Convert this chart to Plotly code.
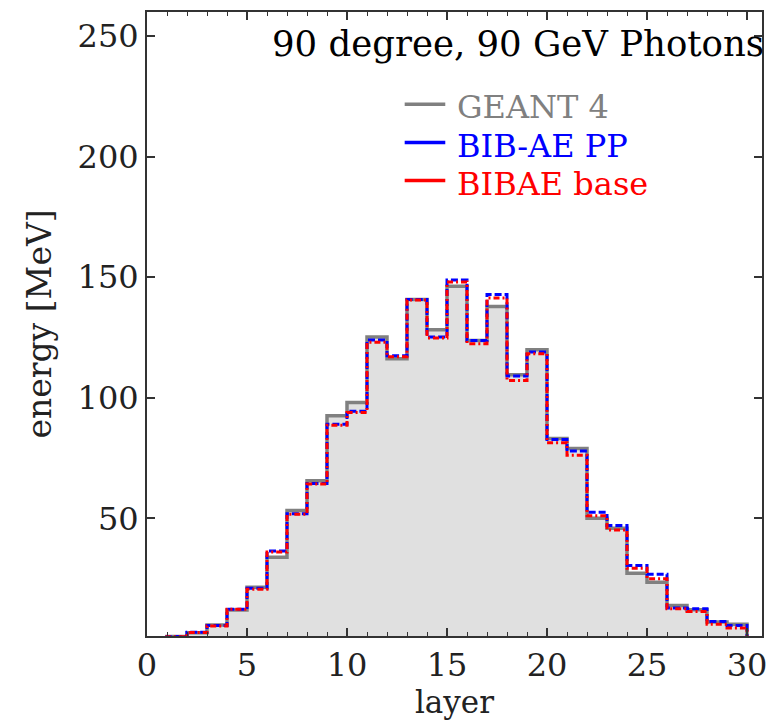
import plotly.graph_objects as go

# bin edges: layers 1..30 (29 bins)
edges = list(range(1, 31))
geant4 = [1.0, 2.5, 5.8, 12.0, 21.4, 33.9, 53.2, 65.6, 92.5, 98.0, 125.2, 116.2, 140.8, 128.2,
          146.3, 123.8, 137.9, 109.6, 119.9, 83.1, 79.0, 50.0, 45.9, 27.2, 23.5, 13.9, 12.1, 7.0, 6.1]
bibae_pp = [1.0, 2.8, 5.6, 12.3, 21.0, 36.5, 51.9, 64.5, 89.0, 94.4, 124.0, 117.4, 140.8, 125.2,
            148.9, 123.8, 142.8, 109.0, 119.0, 82.7, 77.9, 52.5, 47.0, 30.4, 26.8, 12.8, 12.5, 7.2, 5.6]
bibae_base = [0.9, 2.6, 5.3, 12.3, 20.6, 36.0, 51.7, 64.2, 88.6, 93.9, 123.0, 117.0, 140.6, 124.8,
              148.0, 122.4, 141.4, 107.2, 118.3, 81.3, 76.2, 51.1, 45.2, 29.3, 24.9, 12.5, 11.4, 6.1, 4.5]
labels = ["GEANT 4", "BIB-AE PP", "BIBAE base"]
colors = ["#808080", "#0000ff", "#ff0000"]
title_text = "90 degree, 90 GeV Photons"
x_ticks = [0, 5, 10, 15, 20, 25, 30]
y_ticks = [50, 100, 150, 200, 250]


def step_xy(vals):
    xs = [edges[0]] + edges[:-1] + [edges[-1], edges[-1]]
    ys = [0] + vals + [vals[-1], 0]
    return xs, ys


FONT = "DejaVu Serif"
fig = go.Figure()

xs, ys = step_xy(geant4)
fig.add_trace(go.Scatter(x=xs, y=ys, mode="lines", line=dict(shape="hv", color=colors[0], width=3.5),
                         fill="tozeroy", fillcolor="#e0e0e0", showlegend=False))
xs, ys = step_xy(bibae_pp)
fig.add_trace(go.Scatter(x=xs, y=ys, mode="lines",
                         line=dict(shape="hv", color=colors[1], width=3, dash="7px,3px"),
                         showlegend=False))
xs, ys = step_xy(bibae_base)
fig.add_trace(go.Scatter(x=xs, y=ys, mode="lines",
                         line=dict(shape="hv", color=colors[2], width=3, dash="6px,3px,2px,3px"),
                         showlegend=False))

# manual legend
legend_y = [0.852, 0.791, 0.730]
for lab, col, yy in zip(labels, colors, legend_y):
    fig.add_shape(type="line", xref="paper", yref="paper", x0=0.419, x1=0.485, y0=yy, y1=yy,
                  line=dict(color=col, width=3.5))
    fig.add_annotation(xref="paper", yref="paper", x=0.503, y=yy - 0.005, text=lab, showarrow=False,
                       xanchor="left", yanchor="middle", borderpad=0,
                       font=dict(family=FONT, size=32, color=col))

fig.add_annotation(xref="paper", yref="paper", x=1.007, y=0.950, text=title_text, showarrow=False,
                   xanchor="right", yanchor="middle", font=dict(family=FONT, size=35.5, color="black"))

axis_common = dict(showgrid=False, zeroline=False, showline=True, linecolor="#333333", linewidth=2,
                   mirror="ticks", ticks="inside", tickcolor="#333333", ticklen=8, tickwidth=1.5,
                   tickfont=dict(family=FONT, size=32, color="#222222"))
fig.update_xaxes(**axis_common, range=[0, 30.75], tickvals=x_ticks,
                 minor=dict(dtick=1, ticks="inside", ticklen=4, tickcolor="#333333", tickwidth=1),
                 title=dict(text="layer", font=dict(family=FONT, size=31, color="#222222"), standoff=6))
fig.update_yaxes(**axis_common, range=[1.2, 260], tickvals=y_ticks,
                 title=dict(text="energy [MeV]", font=dict(family=FONT, size=33, color="#222222"),
                            standoff=16))

fig.update_layout(width=775, height=720, margin=dict(l=147, r=8, t=12, b=82),
                  plot_bgcolor="white", paper_bgcolor="white", showlegend=False)

fig.write_html("out.html", config={"displayModeBar": False},
               post_script="document.body.style.margin='0';")
